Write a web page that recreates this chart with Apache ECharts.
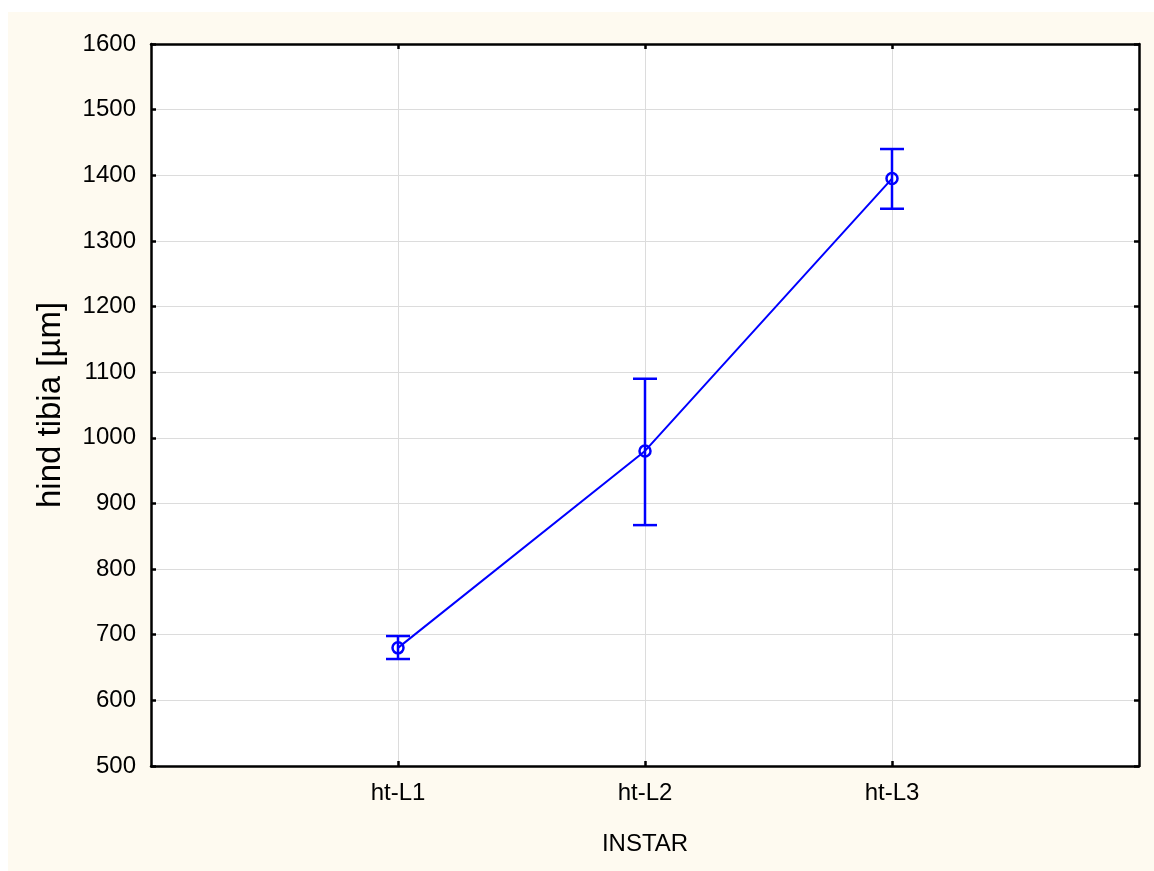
<!DOCTYPE html>
<html>
<head>
<meta charset="utf-8">
<script src="https://cdn.jsdelivr.net/npm/echarts@6/dist/echarts.min.js"></script>
<style>
  html, body { margin: 0; padding: 0; background: #ffffff; }
  #chart { position: absolute; left: 8px; top: 12px; width: 1146px; height: 859px; }
</style>
</head>
<body>
<div id="chart"></div>
<script>
const categories = ['ht-L1', 'ht-L2', 'ht-L3'];
const means = [680, 980, 1395];
const lower = [663, 867, 1349];
const upper = [698, 1090, 1440];
const yTicks = [500, 600, 700, 800, 900, 1000, 1100, 1200, 1300, 1400, 1500, 1600];

const chart = echarts.init(document.getElementById('chart'), null, { renderer: 'canvas' });
const font = 'Liberation Sans, Arial, sans-serif';
const lineData = means.map((v, i) => [i + 1, v]);
const errData = means.map((v, i) => [i + 1, lower[i], upper[i]]);

const option = {
  backgroundColor: '#fefaf0',
  animation: false,
  grid: { left: 143, top: 32, right: 15, bottom: 105, backgroundColor: '#ffffff', show: true, borderWidth: 0 },
  xAxis: [{
    type: 'value', min: 0, max: 4, interval: 1,
    name: 'INSTAR', nameLocation: 'middle', nameGap: 66,
    nameTextStyle: { fontFamily: font, fontSize: 24, color: '#000' },
    axisLine: { show: true, onZero: false, lineStyle: { color: '#000', width: 2.5 } },
    axisTick: { show: true, inside: true, length: 5, lineStyle: { color: '#000', width: 2.5 },
      customValues: [1, 2, 3] },
    axisLabel: { fontFamily: font, fontSize: 24, color: '#000', margin: 15,
      customValues: [1, 2, 3],
      formatter: v => categories[v - 1] || '' },
    splitLine: { show: true, lineStyle: { color: '#dcdcdc', width: 1 } }
  }, {
    type: 'value', min: 0, max: 4, interval: 1, position: 'top',
    axisLine: { show: true, onZero: false, lineStyle: { color: '#000', width: 2.5 } },
    axisTick: { show: true, inside: true, length: 5, lineStyle: { color: '#000', width: 2.5 }, customValues: [1, 2, 3] },
    axisLabel: { show: false },
    splitLine: { show: false }
  }],
  yAxis: [{
    type: 'value', min: 500, max: 1600, interval: 100,
    name: 'hind tibia [µm]', nameLocation: 'middle', nameGap: 84, nameRotate: 90,
    nameTextStyle: { fontFamily: font, fontSize: 33, color: '#000' },
    axisLine: { show: true, onZero: false, lineStyle: { color: '#000', width: 2.5 } },
    axisTick: { show: true, inside: true, length: 5, lineStyle: { color: '#000', width: 2.5 } },
    axisLabel: { fontFamily: font, fontSize: 24, color: '#000', margin: 15,
      formatter: v => yTicks.includes(v) ? String(v) : '' },
    splitLine: { show: true, lineStyle: { color: '#dcdcdc', width: 1 } }
  }, {
    type: 'value', min: 500, max: 1600, interval: 100, position: 'right',
    axisLine: { show: true, onZero: false, lineStyle: { color: '#000', width: 2.5 } },
    axisTick: { show: true, inside: true, length: 5, lineStyle: { color: '#000', width: 2.5 } },
    axisLabel: { show: false },
    splitLine: { show: false }
  }],
  series: [{
    type: 'custom',
    xAxisIndex: 0, yAxisIndex: 0,
    data: errData,
    z: 3,
    renderItem: function (params, api) {
      const x = api.value(0);
      const lo = api.coord([x, api.value(1)]);
      const hi = api.coord([x, api.value(2)]);
      const hw = 12;
      const style = { stroke: '#0000ff', lineWidth: 2.5 };
      return {
        type: 'group',
        children: [
          { type: 'line', shape: { x1: lo[0], y1: lo[1], x2: hi[0], y2: hi[1] }, style },
          { type: 'line', shape: { x1: lo[0] - hw, y1: lo[1], x2: lo[0] + hw, y2: lo[1] }, style },
          { type: 'line', shape: { x1: hi[0] - hw, y1: hi[1], x2: hi[0] + hw, y2: hi[1] }, style }
        ]
      };
    }
  }, {
    type: 'line',
    xAxisIndex: 0, yAxisIndex: 0,
    data: lineData,
    z: 4,
    lineStyle: { color: '#0000ff', width: 2 },
    symbol: 'circle', symbolSize: 11,
    itemStyle: { color: 'rgba(255,255,255,0)', borderColor: '#0000ff', borderWidth: 2.5 },
    showSymbol: true
  }]
};
chart.setOption(option);
</script>
</body>
</html>
